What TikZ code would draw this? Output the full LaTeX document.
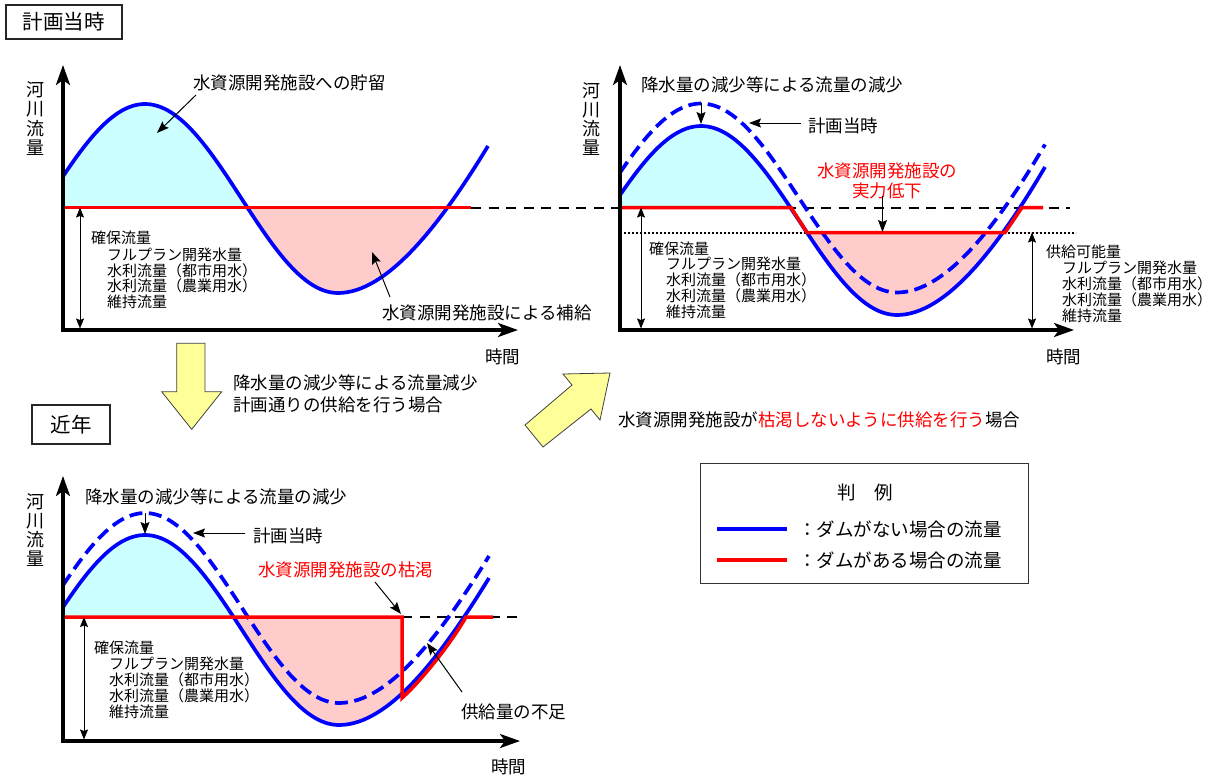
\documentclass[tikz,border=0pt]{standalone}
\usepackage{fontspec}
\setmainfont{Noto Sans CJK JP}
\usetikzlibrary{arrows.meta}
\definecolor{cyanfill}{HTML}{CCFFFF}
\definecolor{pinkfill}{HTML}{FFCCCC}
\definecolor{yel}{HTML}{FFFF99}
\definecolor{bl}{HTML}{0000FF}
\definecolor{rd}{HTML}{FF0000}
\def\curveTL{plot[domain=63:338,samples=80] (\x,{198.5-94.5*cos((\x-145)/193*180)}) .. controls (387,293) and (440,225) .. (488,146)}
\def\curveTR{plot[domain=620:897,samples=80] (\x,{220.5-94.5*cos((\x-701)/196*180)}) .. controls (946,315) and (998,247) .. (1045,167)}
\def\curveTRd{plot[domain=620:897,samples=80] (\x,{198-94.5*cos((\x-701)/196*180)}) .. controls (946,292.5) and (998,224.5) .. (1045,144.5)}
\def\curveB{plot[domain=63:339,samples=80] (\x,{630-95*cos((\x-145)/194*180)}) .. controls (389,725) and (441,656) .. (489,578)}
\def\curveBd{plot[domain=63:339,samples=80] (\x,{608-95*cos((\x-145)/194*180)}) .. controls (389,703) and (441,634) .. (489,556)}
\begin{document}
\begin{tikzpicture}[x=1pt,y=-1pt,
  lbl/.style={inner sep=0pt, anchor=west, font=\fontsize{17.5}{20}\selectfont},
  sml/.style={inner sep=0pt, anchor=west, font=\fontsize{15}{16}\selectfont},
  vlbl/.style={inner sep=0pt, align=center, font=\fontsize{18}{19.2}\selectfont},
  ttl/.style={inner sep=0pt, font=\fontsize{20.5}{22}\selectfont},
  leg/.style={inner sep=0pt, anchor=west, font=\fontsize{18.5}{20}\selectfont},
  axisline/.style={line width=3.2pt, line join=miter, {Stealth[length=20pt,width=14pt,inset=5pt]}-{Stealth[length=20pt,width=14pt,inset=5pt]}},
  dbl/.style={line width=1pt, {Stealth[length=10pt,width=8pt,inset=1.5pt]}-{Stealth[length=10pt,width=8pt,inset=1.5pt]}},
  note/.style={line width=1pt, -{Stealth[length=12pt,width=9pt,inset=2pt]}},
  bluesolid/.style={bl, line width=3.7pt},
  bluedash/.style={bl, line width=3.7pt, dash pattern=on 13pt off 6.5pt},
  redline/.style={rd, line width=3.5pt, line join=miter},
  bdash/.style={black, line width=2pt, dash pattern=on 10pt off 7.5pt},
  dotline/.style={black, line width=2pt, dash pattern=on 2pt off 2pt},
  yarrow/.style={fill=yel, draw=black!75, line width=0.8pt, line join=miter},
  boxline/.style={draw=black!85, line width=1.2pt}
]
\useasboundingbox (0,0) rectangle (1224,780);

% ---------- fills ----------
\begin{scope}\clip (63,0) rectangle (300,207.5);
\fill[cyanfill] \curveTL -- (488,207.5) -- (63,207.5) -- cycle;\end{scope}
\begin{scope}\clip (200,207.5) rectangle (470,340);
\fill[pinkfill] \curveTL -- (488,207.5) -- (63,207.5) -- cycle;\end{scope}
\begin{scope}\clip (620,0) rectangle (850,207.5);
\fill[cyanfill] \curveTR -- (1045,207.5) -- (620,207.5) -- cycle;\end{scope}
\begin{scope}\clip (780,232.5) rectangle (1040,340);
\fill[pinkfill] \curveTR -- (1045,232.5) -- (620,232.5) -- cycle;\end{scope}
\begin{scope}\clip (63,400) rectangle (300,617);
\fill[cyanfill] \curveB -- (489,617) -- (63,617) -- cycle;\end{scope}
\begin{scope}\clip (200,617) rectangle (402,750);
\fill[pinkfill] \curveB -- (489,617) -- (63,617) -- cycle;\end{scope}

% ---------- reference lines ----------
\draw[bdash] (471,207.5) -- (1070,207.5);
\draw[bdash] (402,617) -- (521,617);
\draw[dotline] (624,232.5) -- (1076,232.5);

% ---------- flow curves ----------
\draw[bluedash] \curveTRd;
\draw[bluedash] \curveBd;
\draw[bluesolid] \curveTL;
\draw[bluesolid] \curveTR;
\draw[bluesolid] \curveB;

% ---------- dam flow (red) ----------
\draw[redline] (63,207.5) -- (471,207.5);
\draw[redline] (620,207.5) -- (791,207.5) -- (807,232.5) -- (1005,232.5) -- (1022,207.5) -- (1043,207.5);
\draw[redline] (63,617) -- (402,617) -- (402,698) .. controls (420,682) and (450,645) .. (466,617) -- (493,617);

% ---------- axes ----------
\draw[axisline] (63,65) -- (63,330) -- (518,330);
\draw[axisline] (620,65) -- (620,330) -- (1074,330);
\draw[axisline] (63,476) -- (63,741) -- (520,741);

% ---------- titles ----------
\node[ttl, boxline, minimum width=116pt, minimum height=34pt] (tPlan) at (64,22) {計画当時};
\node[ttl, boxline, minimum width=78pt, minimum height=39pt] (tRecent) at (71,424.5) {近年};

% ---------- top-left panel ----------
\node[vlbl] (tlY) at (36,118.5) {河\\川\\流\\量};
\node[lbl] (tlX) at (485,357) {時間};
\node[lbl] (tlStore) at (193,83) {水資源開発施設への貯留};
\coordinate (tlStoreS) at (196,95); \coordinate (tlStoreT) at (157,133);
\draw[note] (tlStoreS) -- (tlStoreT);
\node[lbl] (tlSupply) at (382,313) {水資源開発施設による補給};
\coordinate (tlSupS) at (390,297); \coordinate (tlSupT) at (372,252);
\draw[note] (tlSupS) -- (tlSupT);
\coordinate (tlD1) at (80,207.5); \coordinate (tlD2) at (80,328.5);
\draw[dbl] (tlD1) -- (tlD2);
\node[sml] (tlK) at (91,238) {確保流量};
\node[sml] (tlK1) at (107,255) {フルプラン開発水量};
\node[sml] (tlK2) at (107,271) {水利流量（都市用水）};
\node[sml] (tlK3) at (107,286) {水利流量（農業用水）};
\node[sml] (tlK4) at (107,302) {維持流量};

% ---------- top-right panel ----------
\node[vlbl] (trY) at (591,119) {河\\川\\流\\量};
\node[lbl] (trX) at (1046,357) {時間};
\node[lbl] (trRain) at (641,85) {降水量の減少等による流量の減少};
\coordinate (trPk1) at (701,103); \coordinate (trPk2) at (701,124);
\draw[note] (trPk1) -- (trPk2);
\node[lbl] (trPlan) at (808,126) {計画当時};
\coordinate (trPlS) at (801,123); \coordinate (trPlT) at (749,123);
\draw[note] (trPlS) -- (trPlT);
\node[inner sep=0pt, align=center, text=rd, font=\fontsize{17.5}{20}\selectfont] (trRed) at (887,181) {水資源開発施設の\\実力低下};
\coordinate (trRdS) at (882.5,196); \coordinate (trRdT) at (882.5,232);
\draw[note] (trRdS) -- (trRdT);
\coordinate (trD1) at (641,207.5); \coordinate (trD2) at (641,328.5);
\draw[dbl] (trD1) -- (trD2);
\coordinate (trE1) at (1032,232.5); \coordinate (trE2) at (1032,328.5);
\draw[dbl] (trE1) -- (trE2);
\node[sml] (trK) at (649,249) {確保流量};
\node[sml] (trK1) at (666,264) {フルプラン開発水量};
\node[sml] (trK2) at (666,280) {水利流量（都市用水）};
\node[sml] (trK3) at (666,296) {水利流量（農業用水）};
\node[sml] (trK4) at (666,312) {維持流量};
\node[sml] (trS) at (1046,252) {供給可能量};
\node[sml] (trS1) at (1062,268) {フルプラン開発水量};
\node[sml] (trS2) at (1062,284) {水利流量（都市用水）};
\node[sml] (trS3) at (1062,300) {水利流量（農業用水）};
\node[sml] (trS4) at (1062,316) {維持流量};

% ---------- bottom panel ----------
\node[vlbl] (bY) at (36,530) {河\\川\\流\\量};
\node[lbl] (bX) at (491,767) {時間};
\node[lbl] (bRain) at (85,497) {降水量の減少等による流量の減少};
\coordinate (bPk1) at (145,513); \coordinate (bPk2) at (145,534);
\draw[note] (bPk1) -- (bPk2);
\node[lbl] (bPlan) at (253,536) {計画当時};
\coordinate (bPlS) at (245,533); \coordinate (bPlT) at (193,533);
\draw[note] (bPlS) -- (bPlT);
\node[lbl, text=rd] (bRed) at (258,570) {水資源開発施設の枯渇};
\coordinate (bRdS) at (375,582); \coordinate (bRdT) at (401,614);
\draw[note] (bRdS) -- (bRdT);
\node[lbl] (bShort) at (461,712) {供給量の不足};
\coordinate (bShS) at (462,692); \coordinate (bShT) at (427,643);
\draw[note] (bShS) -- (bShT);
\coordinate (bD1) at (84,617); \coordinate (bD2) at (84,739.5);
\draw[dbl] (bD1) -- (bD2);
\node[sml] (bK) at (94,648) {確保流量};
\node[sml] (bK1) at (109,664) {フルプラン開発水量};
\node[sml] (bK2) at (109,680) {水利流量（都市用水）};
\node[sml] (bK3) at (109,696) {水利流量（農業用水）};
\node[sml] (bK4) at (109,712) {維持流量};

% ---------- transition arrows ----------
\filldraw[yarrow] (176.7,343.3) -- (205,343.3) -- (205,391.7) -- (221.7,391.7) -- (191.7,429.3) -- (161.7,391.7) -- (176.7,391.7) -- cycle;
\node[lbl] (dnTxt1) at (233,383) {降水量の減少等による流量減少};
\node[lbl] (dnTxt2) at (233,405) {計画通りの供給を行う場合};
\filldraw[yarrow] (610,373) -- (563,374) -- (572,385) -- (525,425) -- (543,447) -- (591,409) -- (600,420) -- cycle;
\node[lbl] (upTxt) at (618,420) {水資源開発施設が\textcolor{rd}{枯渇しないように供給を行う}場合};

% ---------- legend ----------
\node[draw=black!80, line width=1pt, minimum width=328pt, minimum height=120pt, inner sep=0pt] (legBox) at (864,523) {};
\node[inner sep=0pt, font=\fontsize{18.5}{20}\selectfont] (legT) at (865,492) {判　例};
\coordinate (lbA) at (717,529); \coordinate (lbB) at (787,529);
\draw[bl, line width=4pt] (lbA) -- (lbB);
\node[leg] (legBlue) at (798,529) {：ダムがない場合の流量};
\coordinate (lrA) at (717,560); \coordinate (lrB) at (787,560);
\draw[rd, line width=4pt] (lrA) -- (lrB);
\node[leg] (legRed) at (798,560) {：ダムがある場合の流量};
\end{tikzpicture}
\end{document}
